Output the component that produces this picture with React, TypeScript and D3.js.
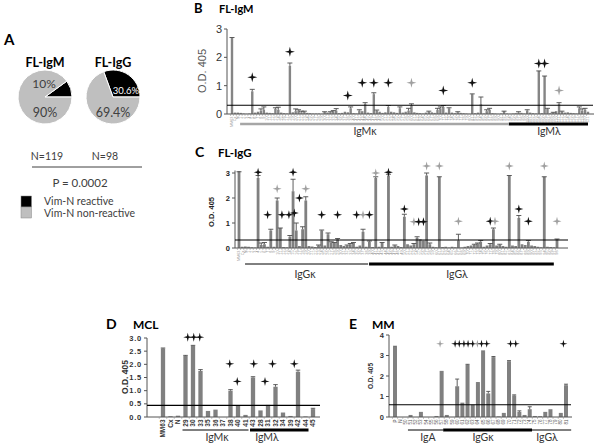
import React from 'react';
import * as d3 from 'd3';

const SANS = "'Liberation Sans', Arial, sans-serif";
const CAL = "Lato, 'Open Sans', sans-serif";

// ---------------- Panel A ----------------
const pieTitles = ['FL-IgM', 'FL-IgG'];
const pieReactive = [10, 30.6];
const pieNonReactive = [90, 69.4];
const pieReactiveLabels = ['10%', '30.6%'];
const pieNonReactiveLabels = ['90%', '69.4%'];
const pieN = ['N=119', 'N=98'];
const pText = 'P = 0.0002';
const legendLabels = ['Vim-N reactive', 'Vim-N non-reactive'];

// ---------------- Panel B (FL-IgM) ----------------
const bValues = [
  2.7, 0.05, 0.05, 0.04, 0.02, 0.01, 0.02, 0.8, 0.05, 0.08,
  0.12, 0.15, 0.05, 0.04, 0.03, 0.18, 0.15, 0.05, 0.03, 0.02,
  1.7, 0.06, 0.1, 0.12, 0.06, 0.08, 0.04, 0.03, 0.02, 0.02,
  0.02, 0.01, 0.07, 0.05, 0.06, 0.1, 0.12, 0.03, 0.04, 0.08,
  0.06, 0.2, 0.03, 0.02, 0.12, 0.1, 0.35, 0.05, 0.03, 0.7,
  0.12, 0.08, 0.04, 0.06, 0.25, 0.08, 0.06, 0.04, 0.2, 0.05,
  0.08, 0.12, 0.3, 0.06, 0.04, 0.03, 0.02, 0.05, 0.08, 0.06,
  0.04, 0.15, 0.2, 0.25, 0.05, 0.2, 0.05, 0.03, 0.06, 0.04,
  0.03, 0.02, 0.01, 0.7, 0.03, 0.05, 0.35, 0.02, 0.1, 0.15,
  0.03, 0.02, 0.01, 0.02, 0.1, 0.02, 0.01, 0.02, 0.03, 0.05,
  0.04, 0.02, 0.12, 0.05, 0.03, 0.02, 1.52, 0.03, 1.34, 0.18,
  0.03, 0.05, 0.1, 0.35, 0.08, 0.05, 0.06, 0.04, 0.03, 0.02,
  0.2, 0.12, 0.15, 0.08,
];
const bErrors = [
  2.7, 0, 0, 0, 0, 0, 0, 0.87, 0, 0,
  0.18, 0.25, 0, 0, 0, 0.22, 0.24, 0, 0, 0,
  1.8, 0, 0.18, 0.15, 0.1, 0.1, 0, 0, 0, 0,
  0, 0, 0.08, 0, 0.08, 0.12, 0.19, 0, 0, 0,
  0, 0.25, 0, 0, 0.15, 0, 0.4, 0, 0, 0.75,
  0.14, 0, 0, 0, 0.3, 0, 0, 0, 0.25, 0,
  0, 0.2, 0.36, 0, 0, 0, 0, 0, 0.1, 0,
  0, 0.2, 0.25, 0.3, 0, 0.22, 0, 0, 0.08, 0,
  0, 0, 0, 0.71, 0, 0, 0.6, 0, 0.15, 0.2,
  0, 0, 0, 0, 0.1, 0, 0, 0, 0, 0.08,
  0, 0, 0.15, 0, 0, 0, 1.52, 0, 1.34, 0.2,
  0, 0.06, 0, 0.4, 0.1, 0, 0, 0, 0, 0,
  0.25, 0.18, 0.2, 0,
];
const bCrosses = [
  { i: 7, v: 1.3, g: false }, { i: 20, v: 2.2, g: false }, { i: 40, v: 0.65, g: false },
  { i: 45, v: 1.1, g: false }, { i: 49, v: 1.1, g: false }, { i: 54, v: 1.1, g: false },
  { i: 62, v: 1.1, g: true }, { i: 73, v: 0.83, g: false }, { i: 83, v: 1.1, g: false },
  { i: 106, v: 1.78, g: false }, { i: 108, v: 1.78, g: false }, { i: 113, v: 0.83, g: true },
];
const bTicks = [0, 1, 2, 3];
const bLabels = ['MM63', 'Cx', 'N', ...d3.range(1, 122).map(String)];
const bGroups = [
  { label: 'IgMκ', from: 2.8, to: 95.4, w: 2.5, color: '#a6a6a6' },
  { label: 'IgMλ', from: 95.6, to: 123, w: 3, color: '#000' },
];

// ---------------- Panel C (FL-IgG) ----------------
const cValues = [
  3.07, 0.05, 0.06, 0.05, 0.03, 0.02, 2.8, 0.12, 0.15, 0.05,
  0.7, 0.05, 1.9, 0.8, 0.04, 0.03, 0.45, 2.27, 0.7, 0.08,
  0.75, 1.9, 0.08, 0.06, 0.04, 0.1, 0.7, 0.1, 0.55, 0.22,
  0.2, 0.35, 0.12, 0.08, 0.1, 0.15, 0.2, 0.05, 0.1, 0.65,
  0.05, 0.25, 0.04, 2.8, 0.05, 0.2, 0.03, 2.9, 0.05, 0.1,
  0.08, 0.04, 1.25, 0.15, 0.1, 0.15, 0.4, 0.35, 0.3, 2.9,
  0.15, 0.05, 0.03, 2.85, 0.04, 0.05, 0.02, 0.05, 0.03, 0.3,
  0.02, 0.05, 0.08, 0.1, 0.12, 0.18, 0.25, 0.05, 0.1, 0.15,
  0.75, 0.1, 0.12, 0.08, 0.05, 2.9, 0.1, 0.08, 1.2, 0.15,
  0.12, 0.25, 0.1, 0.08, 0.05, 0.03, 2.85, 0.05, 0.04, 0.03,
  0.35,
];
const cErrors = [
  3.05, 0, 0, 0, 0, 0, 2.9, 0.2, 0.22, 0,
  0.75, 0, 2.0, 0.8, 0, 0, 0.5, 2.75, 1.0, 0,
  0.85, 2.05, 0, 0, 0, 0.12, 0.72, 0, 0.6, 0.25,
  0.22, 0.38, 0, 0, 0.12, 0.18, 0.22, 0, 0, 0.75,
  0, 0.28, 0, 2.85, 0, 0.22, 0, 2.95, 0, 0.12,
  0, 0, 1.35, 0, 0, 0.18, 0.45, 0, 0, 3.0,
  0.2, 0, 0, 2.85, 0, 0, 0, 0, 0, 0.55,
  0, 0, 0, 0, 0.15, 0.2, 0.3, 0, 0, 0.18,
  0.8, 0, 0.15, 0, 0, 2.9, 0, 0, 1.3, 0,
  0, 0.3, 0, 0, 0, 0, 2.85, 0, 0, 0,
  0.36,
];
const cCrosses = [
  { i: 6, v: 3.03, g: false }, { i: 9, v: 1.33, g: false }, { i: 12, v: 2.37, g: true },
  { i: 13.5, v: 1.33, g: false }, { i: 15.7, v: 1.33, g: false }, { i: 17, v: 3.03, g: false },
  { i: 17.4, v: 1.4, g: false }, { i: 19, v: 2.0, g: false }, { i: 21, v: 2.37, g: true },
  { i: 26, v: 1.33, g: false }, { i: 31, v: 1.33, g: false }, { i: 37, v: 1.33, g: false },
  { i: 39, v: 1.33, g: true }, { i: 41, v: 1.33, g: false }, { i: 43, v: 3.0, g: true },
  { i: 47, v: 3.03, g: false }, { i: 52, v: 1.56, g: false }, { i: 55, v: 1.05, g: true },
  { i: 56.5, v: 1.05, g: false }, { i: 58, v: 1.05, g: false }, { i: 59, v: 3.28, g: true },
  { i: 63, v: 3.28, g: true }, { i: 69, v: 1.07, g: true }, { i: 79, v: 1.07, g: false },
  { i: 80.5, v: 1.07, g: true }, { i: 85, v: 3.28, g: true }, { i: 88, v: 1.56, g: false },
  { i: 91, v: 1.07, g: false }, { i: 96, v: 3.28, g: true }, { i: 100, v: 1.07, g: true },
];
const cTicks = [0, 1, 2, 3];
const cLabels = ['MM63', 'Cx', 'N', ...d3.range(1, 99).map(String)];
const cGroups = [
  { label: 'IgGκ', from: 1.9, to: 40.6, w: 1, color: '#000' },
  { label: 'IgGλ', from: 40.9, to: 99, w: 3, color: '#000' },
];

// ---------------- Panel D (MCL) ----------------
const dLabels = ['MM63', 'Cx', 'N', '29', '30', '33', '35', '36', '37', '38', '40', '41', '43', '28', '31', '32', '34', '39', '42', '44', '45'];
const dValues = [2.6, 0.03, 0.05, 2.32, 2.7, 1.75, 0.23, 0.28, 0, 1.0, 0.42, 0.08, 1.5, 0.25, 0.42, 1.15, 0.17, 0.04, 1.72, 0.02, 0.3];
const dErrors = [2.62, 0, 0, 2.34, 2.72, 1.8, 0, 0, 0, 1.04, 0, 0, 1.53, 0, 0.44, 1.23, 0, 0, 1.78, 0, 0.33];
const dCrosses = [
  { i: 3.3, v: 3.03, g: false }, { i: 4.1, v: 3.03, g: false }, { i: 4.9, v: 3.03, g: false },
  { i: 8.9, v: 2.02, g: false }, { i: 9.9, v: 1.35, g: false }, { i: 12.1, v: 2.02, g: false },
  { i: 13.6, v: 1.35, g: false }, { i: 14.6, v: 2.02, g: false }, { i: 17.5, v: 2.02, g: false },
];
const dTicks = [0, 0.5, 1, 1.5, 2, 2.5, 3];
const dGroups = [
  { label: 'IgMκ', from: 2.6, to: 11.4, w: 1, color: '#000' },
  { label: 'IgMλ', from: 11.6, to: 19.4, w: 3, color: '#000' },
];

// ---------------- Panel E (MM) ----------------
const eValues = [3.42, 0, 0, 0.1, 0, 0.25, 0, 0, 0.05, 2.25, 0.1, 0, 1.5, 0.7, 2.55, 0.6, 1.65, 3.2, 1.15, 2.92, 0.03, 0.2, 2.72, 1.05, 0.25, 0.1, 0.38, 0.05, 0.04, 0.25, 0.38, 0, 0.2, 1.55];
const eErrors = [3.45, 0, 0, 0, 0, 0, 0, 0, 0, 0, 0, 0, 1.85, 0, 2.57, 0, 1.67, 3.22, 1.25, 2.95, 0, 0, 2.75, 1.08, 0.3, 0, 0.5, 0, 0, 0, 0, 0, 0, 1.6];
const eCrosses = [
  { i: 8.7, v: 3.57, g: true }, { i: 11.6, v: 3.57, g: false }, { i: 12.4, v: 3.57, g: false },
  { i: 13.3, v: 3.57, g: false }, { i: 14.1, v: 3.57, g: false }, { i: 15.0, v: 3.57, g: false },
  { i: 15.9, v: 3.57, g: true }, { i: 16.7, v: 3.57, g: false }, { i: 17.7, v: 3.57, g: false },
  { i: 22.3, v: 3.57, g: false }, { i: 23.3, v: 3.57, g: false }, { i: 32.5, v: 3.57, g: false },
];
const eTicks = [0, 1, 2, 3, 4];
const eLabels = ['P', 'N', ...d3.range(50, 82).map(String)];
const eGroups = [
  { label: 'IgA', from: 2.5, to: 9.3, w: 1, color: '#000' },
  { label: 'IgGκ', from: 9.3, to: 26.45, w: 3, color: '#000' },
  { label: 'IgGλ', from: 26.45, to: 34, w: 1, color: '#000' },
];

type Cross = { i: number; v: number; g: boolean };
type Group = { label: string; from: number; to: number; w: number; color: string };

const starPath = (s: number, w: number) =>
  `M0,${-s}L${w},${-w}L${s},0L${w},${w}L0,${s}L${-w},${w}L${-s},0L${-w},${-w}Z`;

interface BarProps {
  values: number[]; errors: number[]; crosses: Cross[]; threshold: number;
  ticks: number[]; tickFmt: (v: number) => string; labels: string[]; groups: Group[];
  xFirst: number; xLast: number; yMax: number; axisTop: number; yBottom: number; yTop: number;
  axisX: number; axisEnd: number; threshEnd: number; barW: number; capW: number;
  tickFont: number; tickWeight: string; tickFill: string; tickSpacing?: number;
  labFont: number; labWeight: string; labFill: string;
  groupY: number; groupTextY: number; groupFont: number; groupCenters?: number[];
  starS: number; starW: number; barColor: string; axisColor: string;
  yLabel: { x: number; y: number; size: number; weight: string; fill: string };
  title: { letter: string; text: string; x: number; tx: number; y: number; ls: number; ts: number };
}

function BarChart(p: BarProps) {
  const n = p.values.length;
  const x = d3.scaleLinear().domain([0, n - 1]).range([p.xFirst, p.xLast]);
  const y = d3.scaleLinear().domain([0, p.yMax]).range([p.yBottom, p.yTop]);
  const y0 = y(0);
  const step = x(1) - x(0);
  return (
    <g>
      <text x={p.title.x} y={p.title.y} fontFamily={CAL} fontWeight="bold" fontSize={p.title.ls} fill="#000">{p.title.letter}</text>
      <text x={p.title.tx} y={p.title.y} fontFamily={CAL} fontWeight="bold" fontSize={p.title.ts} fill="#000">{p.title.text}</text>
      <text transform={`translate(${p.yLabel.x},${p.yLabel.y}) rotate(-90)`} textAnchor="middle" fontFamily={SANS}
        fontSize={p.yLabel.size} fontWeight={p.yLabel.weight} fill={p.yLabel.fill}>O.D. 405</text>
      <line x1={p.axisX} x2={p.axisX} y1={y0} y2={y(p.axisTop)} stroke={p.axisColor} strokeWidth={1} />
      {p.ticks.map((t) => (
        <g key={t}>
          <line x1={p.axisX - 3} x2={p.axisX} y1={y(t)} y2={y(t)} stroke={p.axisColor} />
          <text x={p.axisX - 5} y={y(t)} dy="0.35em" textAnchor="end" fontFamily={SANS} fontSize={p.tickFont}
            fontWeight={p.tickWeight} fill={p.tickFill} letterSpacing={p.tickSpacing || 0}>{p.tickFmt(t)}</text>
        </g>
      ))}
      {p.values.map((v, i) => (
        <rect key={'b' + i} x={x(i) - p.barW / 2} y={y(v)} width={p.barW} height={Math.max(0, y0 - y(v))} fill={p.barColor} />
      ))}
      {p.errors.map((e, i) => (e > 0 ? (
        <g key={'e' + i} stroke="#4d4d4d" strokeWidth={0.9}>
          <line x1={x(i)} x2={x(i)} y1={y(p.values[i])} y2={y(e)} />
          <line x1={x(i) - p.capW / 2} x2={x(i) + p.capW / 2} y1={y(e)} y2={y(e)} />
        </g>
      ) : null))}
      <line x1={p.axisX} x2={p.axisEnd} y1={y0} y2={y0} stroke={p.axisColor} strokeWidth={1} />
      {p.values.map((_, i) => (
        <line key={'t' + i} x1={x(i) - step / 2} x2={x(i) - step / 2} y1={y0} y2={y0 + 2} stroke="#888" strokeWidth={0.5} />
      ))}
      <line x1={p.axisX} x2={p.threshEnd} y1={y(p.threshold)} y2={y(p.threshold)} stroke="#000" strokeWidth={1.1} />
      {p.labels.map((l, i) => (
        <text key={'l' + i} transform={`translate(${x(i)},${y0 + 2.5}) rotate(-90)`} textAnchor="end" dy="0.35em"
          fontFamily={SANS} fontSize={p.labFont} fontWeight={p.labWeight} fill={p.labFill}>{l}</text>
      ))}
      {p.crosses.map((c, k) => (
        <path key={'c' + k} d={starPath(p.starS, p.starW)} transform={`translate(${x(c.i)},${y(c.v)})`}
          fill={c.g ? '#a0a0a0' : '#111'} />
      ))}
      {p.groups.map((g, k) => (
        <g key={'g' + k}>
          <line x1={x(g.from)} x2={x(g.to)} y1={p.groupY} y2={p.groupY} stroke={g.color} strokeWidth={g.w} />
          <text x={p.groupCenters ? p.groupCenters[k] : (x(g.from) + x(g.to)) / 2} y={p.groupTextY} textAnchor="middle"
            fontFamily={CAL} fontSize={p.groupFont} fill="#333">{g.label}</text>
        </g>
      ))}
    </g>
  );
}

function PanelA() {
  const R = 27;
  const cxs = [45, 113];
  const cy = 97;
  const arc = d3.arc<d3.PieArcDatum<number>>().innerRadius(0).outerRadius(R);
  return (
    <g>
      <text x={4} y={45} fontFamily={CAL} fontWeight="bold" fontSize={15} fill="#000">A</text>
      {pieTitles.map((t, k) => {
        const frac = pieReactive[k] / 100;
        const start = Math.PI / 2 - frac * 2 * Math.PI;
        const arcs = d3.pie<number>().sort(null).startAngle(start).endAngle(start + 2 * Math.PI)([pieReactive[k], pieNonReactive[k]]);
        return (
          <g key={t}>
            <text x={cxs[k]} y={67} textAnchor="middle" fontFamily={CAL} fontWeight="bold" fontSize={12.5} fill="#000">{t}</text>
            <g transform={`translate(${cxs[k]},${cy})`}>
              {arcs.map((a, j) => (
                <path key={j} d={arc(a) || ''} fill={j === 0 ? '#000' : '#bfbfbf'} stroke="#fff" strokeWidth={1} />
              ))}
              <text x={k === 0 ? -1 : 13} y={k === 0 ? -9 : -3} textAnchor="middle" fontFamily={CAL} fontSize={k === 0 ? 12 : 9.5}
                fill={k === 0 ? '#404040' : '#fff'}>{pieReactiveLabels[k]}</text>
              <text x={0} y={20} textAnchor="middle" fontFamily={CAL} fontSize={12.5} fill="#404040">{pieNonReactiveLabels[k]}</text>
            </g>
            <text x={k === 0 ? 47 : 105} y={160} textAnchor="middle" fontFamily={CAL} fontSize={10.5} fill="#404040">{pieN[k]}</text>
          </g>
        );
      })}
      <line x1={32} x2={142} y1={167} y2={167} stroke="#404040" strokeWidth={1} />
      <text x={80} y={187} textAnchor="middle" fontFamily={CAL} fontSize={11.5} fill="#404040">{pText}</text>
      {legendLabels.map((l, k) => (
        <g key={l}>
          <rect x={21} y={196 + k * 11} width={10.5} height={11} fill={k === 0 ? '#000' : '#bfbfbf'} stroke="#888" strokeWidth={0.5} />
          <text x={44} y={205 + k * 12} fontFamily={CAL} fontSize={10.5} fill="#404040">{l}</text>
        </g>
      ))}
    </g>
  );
}

export default function App() {
  return (
    <svg width={600} height={447} viewBox="0 0 600 447" style={{ display: 'block', position: 'absolute', left: 0, top: 0, background: '#fff' }}>
      <rect width={600} height={447} fill="#fff" />
      <PanelA />
      <BarChart
        values={bValues} errors={bErrors} crosses={bCrosses} threshold={0.31} ticks={bTicks} tickFmt={(v) => String(v)}
        labels={bLabels} groups={bGroups} xFirst={232} xLast={588} yMax={3} axisTop={3} yBottom={114} yTop={29}
        axisX={227} axisEnd={594} threshEnd={593} barW={2.4} capW={5} tickFont={11} tickWeight="normal" tickFill="#333"
        labFont={3.8} labWeight="normal" labFill="#999" groupY={124} groupTextY={135} groupFont={10.5}
        groupCenters={[365, 549]} starS={5} starW={1} barColor="#858585" axisColor="#555"
        yLabel={{ x: 206, y: 71, size: 11, weight: 'normal', fill: '#555' }}
        title={{ letter: 'B', text: 'FL-IgM', x: 194, tx: 219, y: 13, ls: 13, ts: 11 }}
      />
      <BarChart
        values={cValues} errors={cErrors} crosses={cCrosses} threshold={0.32} ticks={cTicks} tickFmt={(v) => String(v)}
        labels={cLabels} groups={cGroups} xFirst={239} xLast={557} yMax={3} axisTop={3.1} yBottom={248} yTop={173}
        axisX={235} axisEnd={568} threshEnd={568} barW={2.8} capW={5} tickFont={7.5} tickWeight="bold" tickFill="#222"
        labFont={3.8} labWeight="normal" labFill="#999" groupY={264} groupTextY={278} groupFont={10.5}
        groupCenters={[305, 457]} starS={4.5} starW={0.9} barColor="#808080" axisColor="#555"
        yLabel={{ x: 214, y: 212, size: 7.5, weight: 'bold', fill: '#222' }}
        title={{ letter: 'C', text: 'FL-IgG', x: 195, tx: 218, y: 157, ls: 14, ts: 11.5 }}
      />
      <BarChart
        values={dValues} errors={dErrors} crosses={dCrosses} threshold={0.44} ticks={dTicks} tickFmt={d3.format('.1f')}
        labels={dLabels} groups={dGroups} xFirst={163} xLast={313} yMax={3} axisTop={3} yBottom={417} yTop={338}
        axisX={147} axisEnd={320} threshEnd={320} barW={4.3} capW={4.5} tickFont={7.5} tickWeight="bold" tickFill="#333"
        tickSpacing={0.8} labFont={6.5} labWeight="bold" labFill="#333" groupY={430} groupTextY={441} groupFont={10.5}
        groupCenters={[217, 267]} starS={4.5} starW={0.9} barColor="#808080" axisColor="#555"
        yLabel={{ x: 128, y: 377, size: 8.5, weight: 'bold', fill: '#333' }}
        title={{ letter: 'D', text: 'MCL', x: 106, tx: 133, y: 329, ls: 14, ts: 12 }}
      />
      <BarChart
        values={eValues} errors={eErrors} crosses={eCrosses} threshold={0.6} ticks={eTicks} tickFmt={(v) => String(v)}
        labels={eLabels} groups={eGroups} xFirst={395} xLast={566} yMax={4} axisTop={4} yBottom={417} yTop={335}
        axisX={389} axisEnd={572} threshEnd={571} barW={4} capW={4} tickFont={7.5} tickWeight="bold" tickFill="#333"
        labFont={4.5} labWeight="normal" labFill="#555" groupY={430} groupTextY={441} groupFont={10.5}
        groupCenters={[428, 483, 547]} starS={4} starW={0.8} barColor="#808080" axisColor="#555"
        yLabel={{ x: 373, y: 376, size: 6.5, weight: 'bold', fill: '#333' }}
        title={{ letter: 'E', text: 'MM', x: 349, tx: 372, y: 329, ls: 14, ts: 12 }}
      />
    </svg>
  );
}
